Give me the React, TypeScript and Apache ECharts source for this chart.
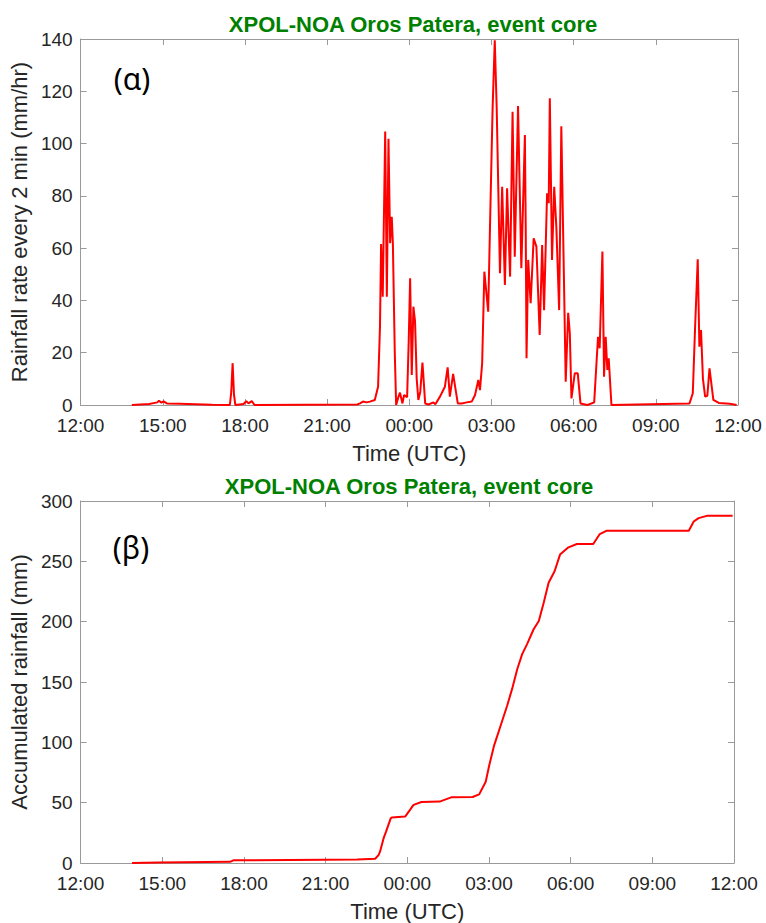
import React, { useEffect, useRef } from "react";
import * as echarts from "echarts";

// Time axis (hours after 12:00 UTC of day 1) and tick labels
const tickLabels = ["12:00", "15:00", "18:00", "21:00", "00:00", "03:00", "06:00", "09:00", "12:00"];

// Panel (α): rainfall rate every 2 min (mm/hr)
const rateHours = [
  1.87, 2.5, 2.8, 2.86, 2.95, 3.03, 3.15, 3.6, 4.8, 5.45, 5.5, 5.55, 5.6, 5.65, 5.95, 6.05, 6.13, 6.25, 6.35,
  10.1, 10.2, 10.31, 10.44, 10.56, 10.74, 10.86, 10.93, 10.97, 11.03, 11.12, 11.18, 11.24, 11.3, 11.36, 11.4,
  11.47, 11.52, 11.6, 11.66, 11.75, 11.81, 11.92, 11.98, 12.03, 12.09, 12.15, 12.21, 12.27, 12.33, 12.4, 12.48,
  12.58, 12.7, 12.88, 12.95, 13.12, 13.3, 13.4, 13.48, 13.6, 13.77, 13.91, 14.1, 14.28, 14.4, 14.52, 14.58,
  14.66, 14.74, 14.88, 14.96, 15.04, 15.12, 15.19, 15.31, 15.39, 15.49, 15.57, 15.68, 15.77, 15.85, 15.97,
  16.09, 16.22, 16.25, 16.28, 16.34, 16.43, 16.54, 16.64, 16.76, 16.85, 16.92, 17.03, 17.09, 17.13, 17.21,
  17.29, 17.37, 17.47, 17.55, 17.71, 17.8, 17.86, 17.92, 18.04, 18.15, 18.25, 18.5, 18.75, 18.89, 18.95,
  19.05, 19.11, 19.17, 19.23, 19.28, 19.38, 22.23, 22.35, 22.43, 22.53, 22.59, 22.65, 22.72, 22.8, 22.88,
  22.96, 23.1, 23.3, 23.7, 23.95,
];
const rateValues = [
  0, 0.4, 1.0, 1.6, 0.9, 1.4, 0.6, 0.5, 0.1, 0, 5, 16, 4, 0, 0.4, 1.5, 0.6, 1.5, 0,
  0.2, 0.6, 1.3, 1.0, 1.3, 1.9, 7, 30, 61.6, 41.4, 104.6, 41.4, 101.8, 61.9, 72, 61.9,
  20, 0, 3, 4.7, 0.6, 3.8, 3, 25, 48.5, 11.5, 37.6, 31.9, 10, 1.9, 5, 16.2,
  0.6, 0.2, 1.0, 0.3, 3.2, 7, 14.4, 3.2, 11.9, 0.6, 0.6, 1.0, 1.3, 3.8, 9.6, 5.7,
  16, 51, 35.7, 75, 112.9, 139.5, 114, 50.4, 83.5, 45.9, 82.9, 49.1, 112.2, 56.7, 114.4,
  52.3, 103.3, 68, 17.9, 55.5, 38.9, 63.8, 60.6, 26.8, 61.2, 36.3, 81, 77.2, 117.3, 55.5,
  83.5, 67.6, 36.3, 106.6, 8.9, 35.3, 27.4, 2.5, 12.1, 12.1, 0.6, 0, 1, 26.1, 21.7,
  58.7, 10.8, 26.1, 13.4, 17.9, 0, 0.6, 4.5, 28.7, 55.7, 22.3, 28.7, 10, 3.2, 3.5,
  14, 2, 0.8, 0.5, 0,
];

// Panel (β): accumulated rainfall (mm)
const accHours = [
  1.89, 2.88, 5.49, 5.61, 8.95, 10.16, 10.82, 10.95, 11.0, 11.13, 11.22, 11.39, 11.43, 11.92, 12.1, 12.22,
  12.28, 12.52, 13.19, 13.61, 14.4, 14.64, 14.88, 15.01, 15.19, 15.43, 15.67, 15.85, 16.04, 16.22, 16.4,
  16.64, 16.83, 17.01, 17.19, 17.41, 17.61, 17.92, 18.23, 18.83, 19.07, 19.31, 22.34, 22.52, 22.7, 23.0, 23.95,
];
const accValues = [
  0, 0.5, 1.0, 2.2, 2.7, 2.8, 3.5, 6.8, 9.6, 20.6, 26, 37, 37.7, 38.5, 44, 48,
  48.6, 50.5, 50.9, 54.4, 54.7, 56.9, 67.4, 81, 97.5, 114, 130.5, 144.3, 160.8, 173.1, 181.4,
  193.7, 200.6, 215.7, 232.2, 241.8, 255.6, 261.6, 264.4, 264.4, 272.6, 275.3, 275.3, 283, 285.8, 287.7, 287.7,
];

const titleText = "XPOL-NOA Oros Patera, event core";
const FONT = 'Arial, "Liberation Sans", sans-serif';
const AXIS_GRAY = "#9a9a9a";
const TEXT_DARK = "#262626";

function xAxes(gridIndex: number) {
  const common = {
    type: "value" as const,
    gridIndex,
    min: 0,
    max: 24,
    interval: 3,
    splitLine: { show: false },
    axisLine: { show: true, onZero: false, lineStyle: { color: AXIS_GRAY, width: 1 } },
    axisTick: { show: true, inside: true, length: 6, lineStyle: { color: AXIS_GRAY } },
  };
  return [
    {
      ...common,
      position: "bottom",
      name: "Time (UTC)",
      nameLocation: "middle",
      nameGap: 37,
      nameTextStyle: { fontFamily: FONT, fontSize: 22, color: TEXT_DARK },
      axisLabel: {
        show: true,
        margin: 11,
        fontFamily: FONT,
        fontSize: 19,
        color: TEXT_DARK,
        formatter: (v: number) => tickLabels[Math.round(v / 3)],
      },
    },
    { ...common, position: "top", axisLabel: { show: false } },
  ];
}

function yAxes(gridIndex: number, max: number, interval: number, name: string, gap: number) {
  const common = {
    type: "value" as const,
    gridIndex,
    min: 0,
    max,
    interval,
    splitLine: { show: false },
    axisLine: { show: true, onZero: false, lineStyle: { color: AXIS_GRAY, width: 1 } },
    axisTick: { show: true, inside: true, length: 6, lineStyle: { color: AXIS_GRAY } },
  };
  return [
    {
      ...common,
      position: "left",
      name,
      nameLocation: "middle",
      nameGap: gap,
      nameTextStyle: { fontFamily: FONT, fontSize: 22, color: TEXT_DARK },
      axisLabel: { show: true, margin: 8, fontFamily: FONT, fontSize: 19, color: TEXT_DARK },
    },
    { ...common, position: "right", axisLabel: { show: false } },
  ];
}

export default function App() {
  const ref = useRef<HTMLDivElement>(null);

  useEffect(() => {
    if (!ref.current) return;
    const chart = echarts.init(ref.current, undefined, { renderer: "svg" });
    const rateData = rateHours.map((h, i) => [h, rateValues[i]]);
    const accData = accHours.map((h, i) => [h, accValues[i]]);

    chart.setOption({
      animation: false,
      backgroundColor: "#ffffff",
      title: [
        {
          text: titleText,
          left: 408,
          top: 8,
          textAlign: "center",
          textStyle: { fontFamily: FONT, fontSize: 22, fontWeight: "bold", color: "#008000" },
        },
        {
          text: titleText,
          left: 404,
          top: 470,
          textAlign: "center",
          textStyle: { fontFamily: FONT, fontSize: 22, fontWeight: "bold", color: "#008000" },
        },
      ],
      grid: [
        { left: 78, top: 39, width: 660, height: 366 },
        { left: 74, top: 501, width: 660, height: 364 },
      ],
      xAxis: [...xAxes(0), ...xAxes(1)],
      yAxis: [
        ...yAxes(0, 140, 20, "Rainfall rate every 2 min (mm/hr)", 40),
        ...yAxes(1, 300, 50, "Accumulated rainfall (mm)", 43),
      ],
      graphic: [
        {
          type: "text",
          x: 132,
          y: 78,
          style: {
            text: "(α)",
            fontFamily: '"Noto Sans", sans-serif',
            fontSize: 30,
            fill: "#000000",
            align: "center",
            verticalAlign: "middle",
          },
        },
        {
          type: "text",
          x: 131,
          y: 547,
          style: {
            text: "(β)",
            fontFamily: '"Noto Sans", sans-serif',
            fontSize: 30,
            fill: "#000000",
            align: "center",
            verticalAlign: "middle",
          },
        },
      ],
      series: [
        {
          type: "line",
          xAxisIndex: 0,
          yAxisIndex: 0,
          data: rateData,
          showSymbol: false,
          symbol: "none",
          lineStyle: { color: "#ff0000", width: 2 },
          clip: true,
        },
        {
          type: "line",
          xAxisIndex: 2,
          yAxisIndex: 2,
          data: accData,
          showSymbol: false,
          symbol: "none",
          lineStyle: { color: "#ff0000", width: 2 },
          clip: true,
        },
      ],
    });

    return () => chart.dispose();
  }, []);

  return (
    <div
      ref={ref}
      style={{ position: "fixed", left: 0, top: 0, width: 766, height: 923, background: "#fff" }}
    />
  );
}
